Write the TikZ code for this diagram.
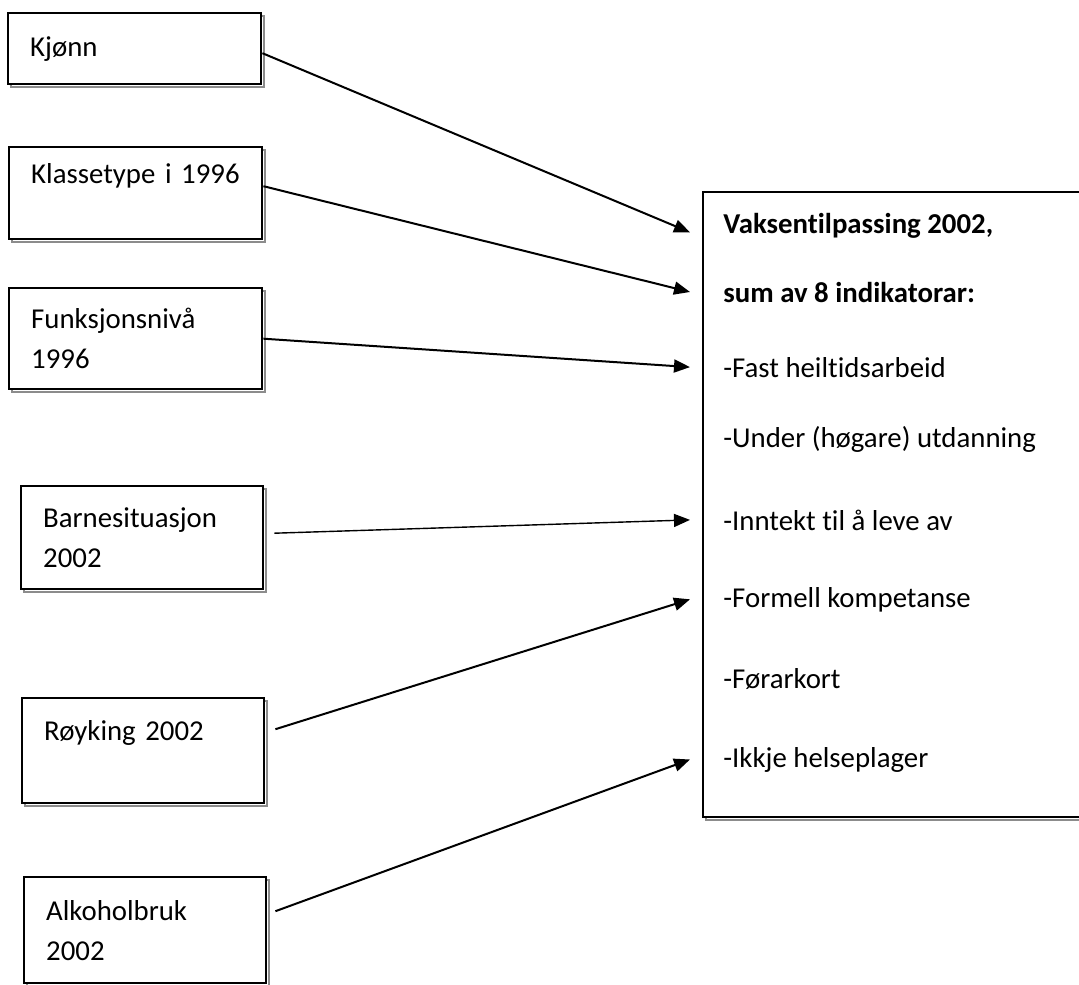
\documentclass[tikz,border=0pt]{standalone}
\usepackage{fontspec}
\setmainfont{Carlito}[Ligatures=NoCommon]
\usepackage{tikz}
\usetikzlibrary{arrows.meta, shadows}
\newcommand{\diagfont}{\fontsize{14.4}{20}\selectfont}

\begin{document}
\begin{tikzpicture}[
    x=0.5pt, y=-0.5pt,
    every node/.style={font=\diagfont},
    factorbox/.style={draw, line width=1.2pt, fill=white, anchor=north west, align=left, inner xsep=11pt, inner ysep=0pt,
        general shadow={draw=black!45, line width=0.8pt, fill=white, shadow xshift=1.5pt, shadow yshift=-1.5pt}},
    outcomebox/.style={factorbox, inner sep=0pt},
    item/.style={anchor=base west, inner sep=0pt},
    headitem/.style={item, font=\diagfont\bfseries},
    arrow/.style={line width=1pt, -{Triangle[length=8pt, width=6.5pt]}}
]
    \useasboundingbox (0,0) rectangle (1079,984);

    % left column
    \node[factorbox, text width=104.5pt, minimum height=35.5pt] (kjonn) at (7,12) {Kjønn};
    \node[factorbox, text width=104.5pt, minimum height=46pt] (klasse) at (8,146) {Klassetype i 1996\\ \mbox{}};
    \node[factorbox, text width=104.5pt, minimum height=50.5pt] (funksjon) at (8,287) {Funksjonsnivå\\ 1996};
    \node[factorbox, text width=99pt, minimum height=51.5pt] (barn) at (20,485) {Barnesituasjon\\ 2002};
    \node[factorbox, text width=99pt, minimum height=52.5pt] (royk) at (21,697) {Røyking 2002\\ \mbox{}};
    \node[factorbox, text width=99pt, minimum height=53pt] (alko) at (23,876) {Alkoholbruk\\ 2002};

    % outcome
    \node[outcomebox, minimum width=194pt, minimum height=312.5pt] (vaksen) at (702,191) {};
    \node[headitem] (v1) at (723,233) {Vaksentilpassing 2002,};
    \node[headitem] (v2) at (723,302) {sum av 8 indikatorar:};
    \node[item] (v3) at (723,377) {-Fast heiltidsarbeid};
    \node[item] (v4) at (723,447) {-Under (høgare) utdanning};
    \node[item] (v5) at (723,530) {-Inntekt til å leve av};
    \node[item] (v6) at (723,607) {-Formell kompetanse};
    \node[item] (v7) at (723,688) {-Førarkort};
    \node[item] (v8) at (723,767) {-Ikkje helseplager};

    \draw[arrow] ([yshift=-2.25pt]kjonn.east) -- ([xshift=-16.5pt, yshift=-3.5pt]v1.west);
    \draw[arrow] ([yshift=3.5pt]klasse.east) -- ([xshift=-16.5pt]v2.west);
    \draw[arrow] (funksjon.east) -- ([xshift=-16.5pt]v3.west);
    \draw[arrow, line width=0.7pt] ([xshift=5pt, yshift=2.25pt]barn.east) -- ([xshift=-16.5pt]v5.west);
    \draw[arrow] ([xshift=5pt, yshift=10.75pt]royk.east) -- ([xshift=-16.5pt]v6.west);
    \draw[arrow] ([xshift=4pt, yshift=9.5pt]alko.east) -- ([xshift=-16.5pt]v8.west);

\end{tikzpicture}
\end{document}
